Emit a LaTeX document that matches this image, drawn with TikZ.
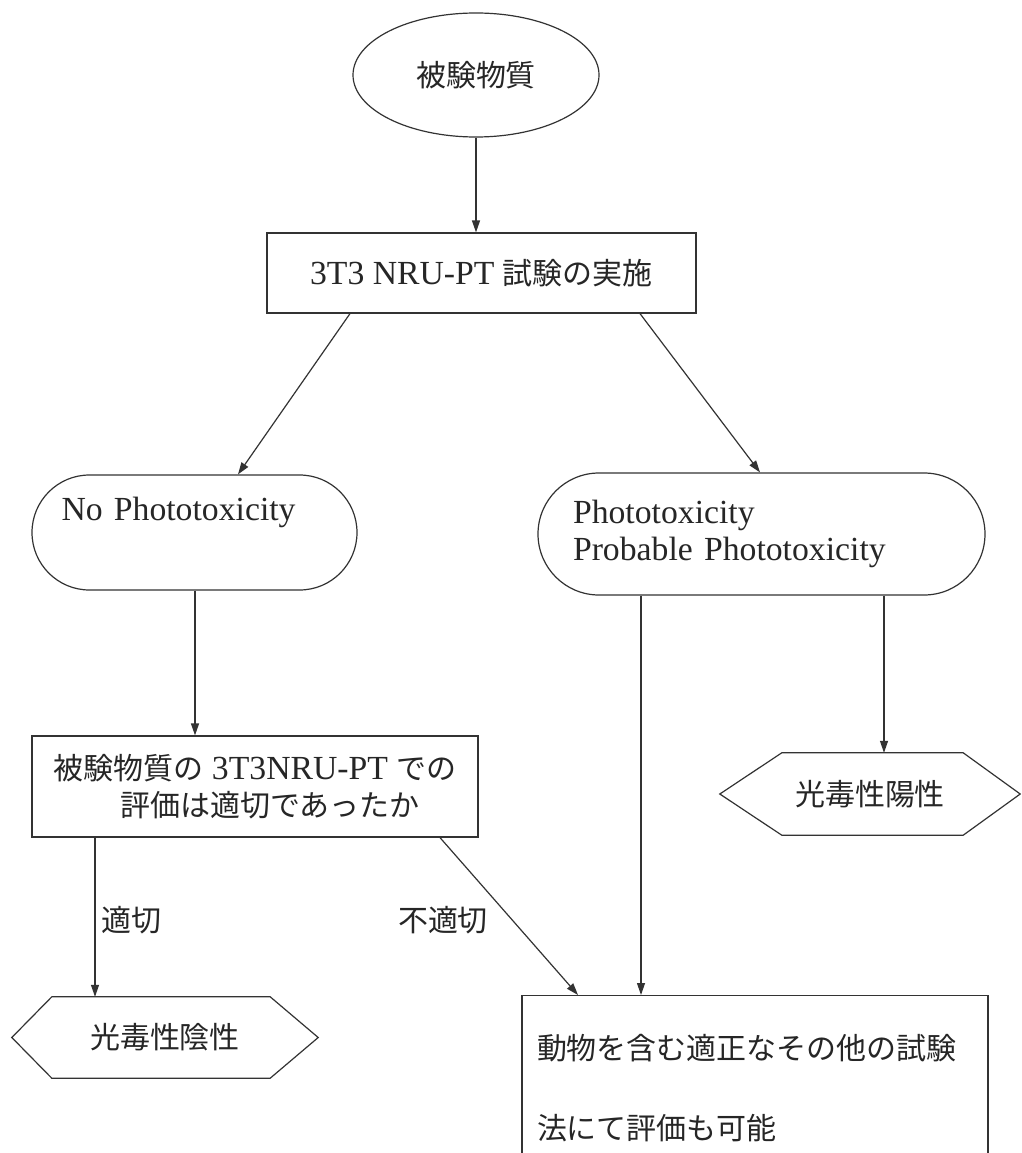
\documentclass[tikz,border=0pt]{standalone}
\usepackage{fontspec}
\setmainfont{Liberation Serif}[Scale=1.06]
\newfontfamily\cjk{Noto Sans CJK JP}[Scale=0.943]
\usetikzlibrary{arrows.meta,calc,shapes.geometric}
\begin{document}
\begin{tikzpicture}[x=1pt,y=-1pt,
  every node/.style={font=\fontsize{31.8}{37}\selectfont, text=black!85},
  ln/.style={draw=black!80, line width=1.2pt},
  arr/.style={ln, -{Triangle[length=12pt,width=8pt]}},
  box/.style={ln, rectangle, inner sep=0pt},
  pill/.style={ln, rectangle, rounded corners=#1, inner sep=0pt},
  hexbox/.style={inner sep=0pt}]
\fill[white] (0,0) rectangle (1021,1153);
\useasboundingbox (0,0) rectangle (1021,1153);
% helper x positions
\coordinate (x95) at (95,0);
\coordinate (x195) at (195,0);
\coordinate (x238) at (238,0);
\coordinate (x350) at (350,0);
\coordinate (x440) at (440,0);
\coordinate (x578) at (578,0);
\coordinate (x640) at (640,0);
\coordinate (x641) at (641,0);
\coordinate (x760) at (760,0);
\coordinate (x884) at (884,0);
% nodes
\node[ln, ellipse, minimum width=246, minimum height=124, inner sep=0pt] (src) at (476,75) {\cjk 被験物質};
\node[box, minimum width=429, minimum height=80] (test) at (481.5,273) {3T3 NRU-PT {\cjk 試験の実施}};
\node[pill=57.5pt, minimum width=325, minimum height=115, text width=266, align=left] (neg) at (194.5,532.5) {No Phototoxicity\\\strut};
\node[pill=61pt, minimum width=447, minimum height=122, text width=377, align=left] (pos) at (761.5,534) {Phototoxicity\\Probable Phototoxicity};
\node[box, minimum width=446, minimum height=101, align=center] (eval) at (255,786.5) {{\cjk 被験物質の} 3T3NRU-PT {\cjk での}\\\hspace*{30pt}{\cjk 評価は適切であったか}};
\node[hexbox, minimum width=306, minimum height=81] (hneg) at (165,1037.5) {\cjk 光毒性陰性};
\draw[ln] (hneg.west) -- ([xshift=40pt]hneg.north west) -- ([xshift=-48pt]hneg.north east) -- (hneg.east) -- ([xshift=-48pt]hneg.south east) -- ([xshift=40pt]hneg.south west) -- cycle;
\node[hexbox, minimum width=300, minimum height=82] (hpos) at (870,794) {\cjk 光毒性陽性};
\draw[ln] (hpos.west) -- ([xshift=62pt]hpos.north west) -- ([xshift=-57pt]hpos.north east) -- (hpos.east) -- ([xshift=-57pt]hpos.south east) -- ([xshift=62pt]hpos.south west) -- cycle;
\node[box, minimum width=466, minimum height=185, text width=436, align=left, anchor=north] (other) at (755,995) {{\cjk 動物を含む適正なその他の試験}\\[43pt]{\cjk 法にて評価も可能}};
\node (ok) at (131,920) {\cjk 適切};
\node (ng) at (443,920) {\cjk 不適切};
% connectors
\draw[arr] (src.south) -- (src.south |- test.north);
\draw[arr] (test.south -| x350) -- (neg.north -| x238);
\draw[arr] (test.south -| x640) -- (pos.north -| x760);
\draw[arr] (neg.south -| x195) -- (eval.north -| x195);
\draw[arr] (eval.south -| x95) -- (hneg.north -| x95);
\draw[arr] (eval.south -| x440) -- (other.north -| x578);
\draw[arr] (pos.south -| x641) -- (other.north -| x641);
\draw[arr] (pos.south -| x884) -- (hpos.north -| x884);
\end{tikzpicture}
\end{document}
